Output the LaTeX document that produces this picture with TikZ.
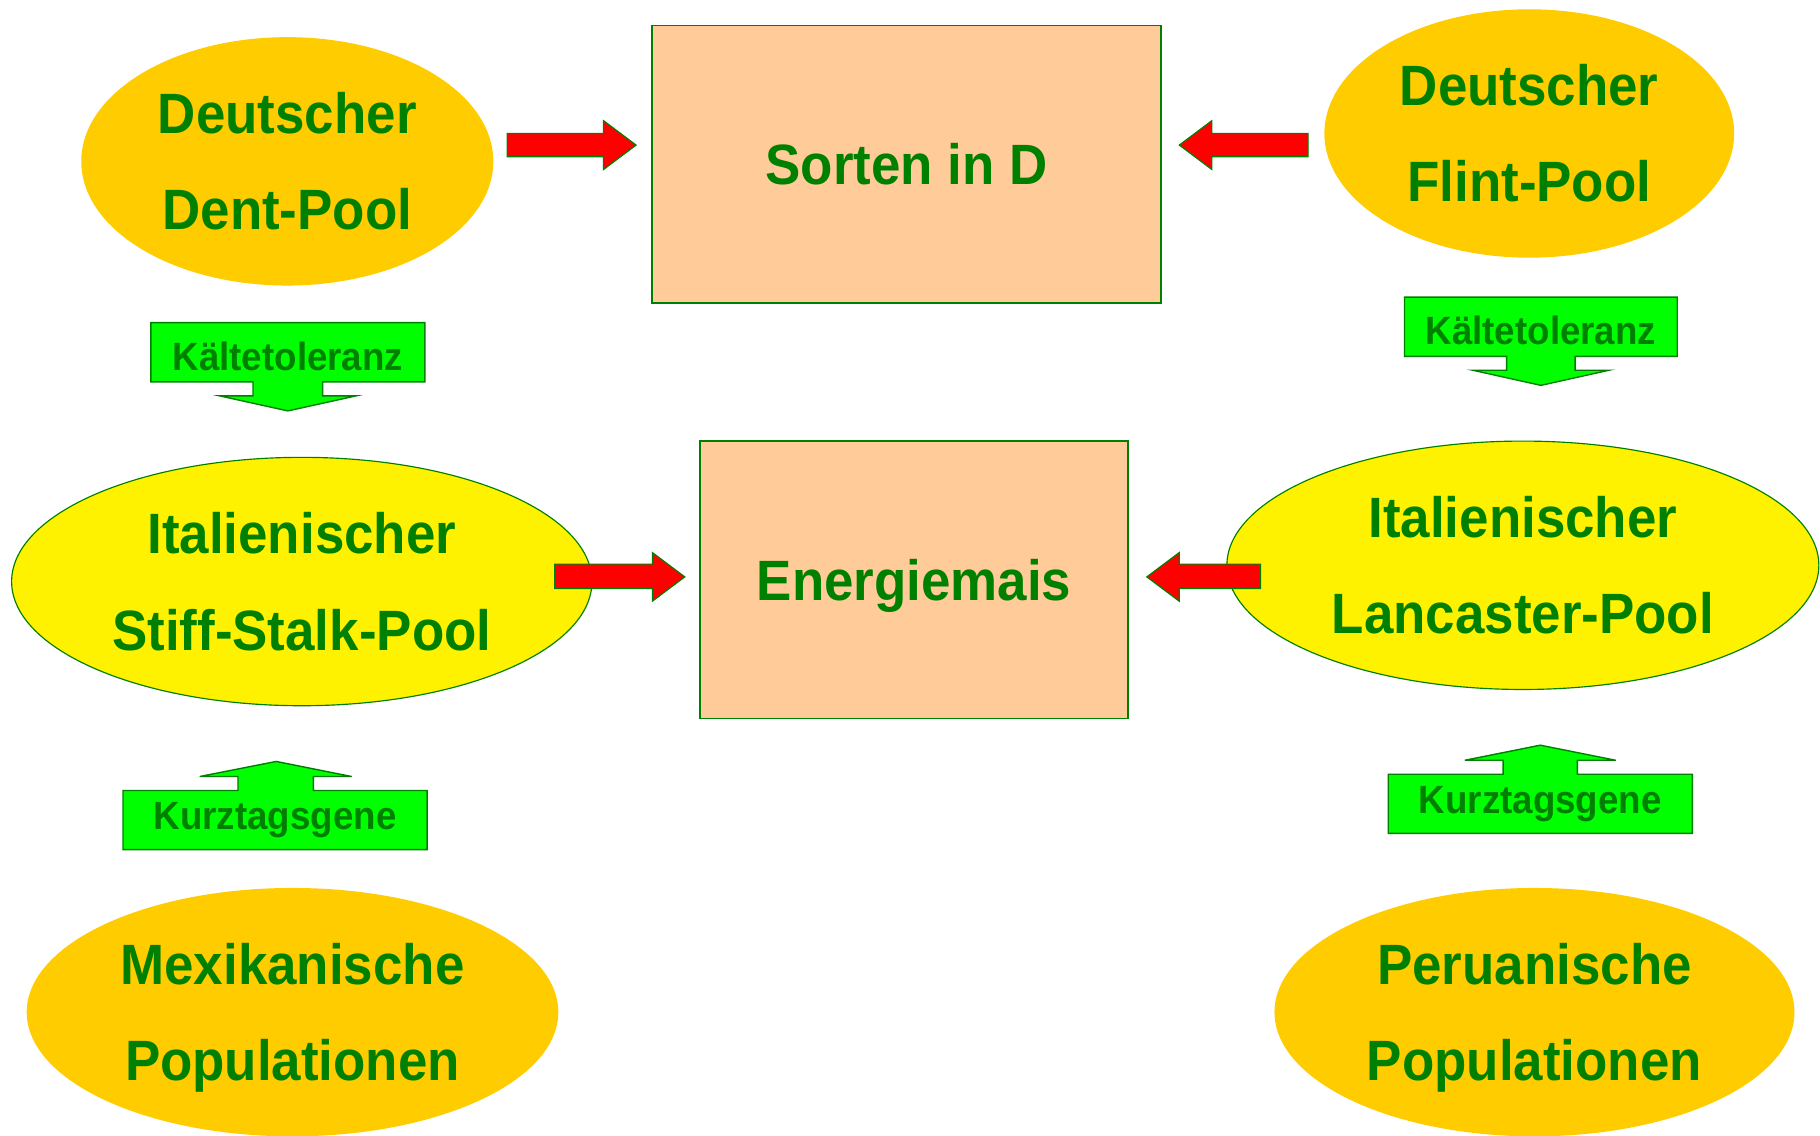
\documentclass[tikz,border=0pt]{standalone}
\usepackage{fontspec}
\newfontfamily\arialb[FakeStretch=0.93]{Liberation Sans}
\usetikzlibrary{shapes.geometric}
\definecolor{txtgreen}{HTML}{008000}
\definecolor{gold}{HTML}{FFCC00}
\definecolor{peach}{HTML}{FFCC99}
\definecolor{brightgreen}{HTML}{00FF00}
\definecolor{lineg}{HTML}{008000}
\begin{document}
\begin{tikzpicture}[x=1pt,y=-1pt,
 bigtxt/.style={font=\arialb\bfseries\fontsize{49}{83}\selectfont, text=txtgreen, align=center},
 pool/.style={ellipse, inner sep=0pt, bigtxt},
 goldpool/.style={pool, fill=gold},
 yellowpool/.style={pool, fill=yellow, draw=lineg, line width=1pt},
 peachbox/.style={rectangle, inner sep=0pt, fill=peach, draw=lineg, line width=1.5pt, bigtxt},
 redarrow/.style={fill=red, draw=lineg, line width=1pt, line join=miter},
 greenarrow/.style={fill=brightgreen, draw=lineg, line width=1.2pt, line join=miter},
 smalltxt/.style={font=\arialb\bfseries\fontsize{34}{40}\selectfont, text=txtgreen, anchor=base, inner sep=0pt}
]
\useasboundingbox[fill=white] (0,0) rectangle (1568,978);

% pools
\node[goldpool, minimum width=355pt, minimum height=214pt] (dent) at (247.5,139) {Deutscher\\Dent-Pool};
\node[goldpool, minimum width=353pt, minimum height=214pt] (flint) at (1317.5,115) {Deutscher\\Flint-Pool};
\node[yellowpool, minimum width=500pt, minimum height=214pt] (stiff) at (260,501) {Italienischer\\Stiff-Stalk-Pool};
\node[yellowpool, minimum width=510pt, minimum height=214pt] (lanc) at (1312,487) {Italienischer\\Lancaster-Pool};
\node[goldpool, text depth=0pt, minimum width=458pt, minimum height=214pt] (mex) at (252,872) {Mexikanische\\Populationen};
\node[goldpool, text depth=0pt, minimum width=448pt, minimum height=214pt] (peru) at (1322,872) {Peruanische\\Populationen};

% boxes
\node[peachbox, minimum width=438pt, minimum height=239pt] (sorten) at (781,141.5) {Sorten in D};
\node[peachbox, text depth=0pt, minimum width=369pt, minimum height=239pt] (energie) at (787.5,499.5) {Energiemais};

% red block arrows
\path[redarrow] (437,115) -- (520,115) -- (520,104) -- (548,125) -- (520,146) -- (520,135) -- (437,135) -- cycle;
\path[redarrow] (1127,115) -- (1044,115) -- (1044,104) -- (1016,125) -- (1044,146) -- (1044,135) -- (1127,135) -- cycle;
\path[redarrow] (478,486) -- (562,486) -- (562,476) -- (590,497) -- (562,518) -- (562,507) -- (478,507) -- cycle;
\path[redarrow] (1086,486) -- (1016,486) -- (1016,476) -- (988,497) -- (1016,518) -- (1016,507) -- (1086,507) -- cycle;

% green arrow boxes (down)
\path[greenarrow] (130,278) -- (366,278) -- (366,329) -- (278,329) -- (278,341) -- (307,341) -- (248,354) -- (189,341) -- (218,341) -- (218,329) -- (130,329) -- cycle;
\node[smalltxt] (kt1) at (248,319) {Kältetoleranz};
\path[greenarrow] (1210,256) -- (1445,256) -- (1445,307) -- (1357,307) -- (1357,319) -- (1386,319) -- (1327.5,332) -- (1269,319) -- (1298,319) -- (1298,307) -- (1210,307) -- cycle;
\node[smalltxt] (kt2) at (1327.5,297) {Kältetoleranz};

% green arrow boxes (up)
\path[greenarrow] (106,681) -- (205,681) -- (205,669) -- (172,669) -- (238,656) -- (303,669) -- (270,669) -- (270,681) -- (368,681) -- (368,732) -- (106,732) -- cycle;
\node[smalltxt] (kg1) at (237,715) {Kurztagsgene};
\path[greenarrow] (1196,667) -- (1295,667) -- (1295,655) -- (1262,655) -- (1327,642) -- (1392,655) -- (1359,655) -- (1359,667) -- (1458,667) -- (1458,718) -- (1196,718) -- cycle;
\node[smalltxt] (kg2) at (1327,701) {Kurztagsgene};
\end{tikzpicture}
\end{document}
